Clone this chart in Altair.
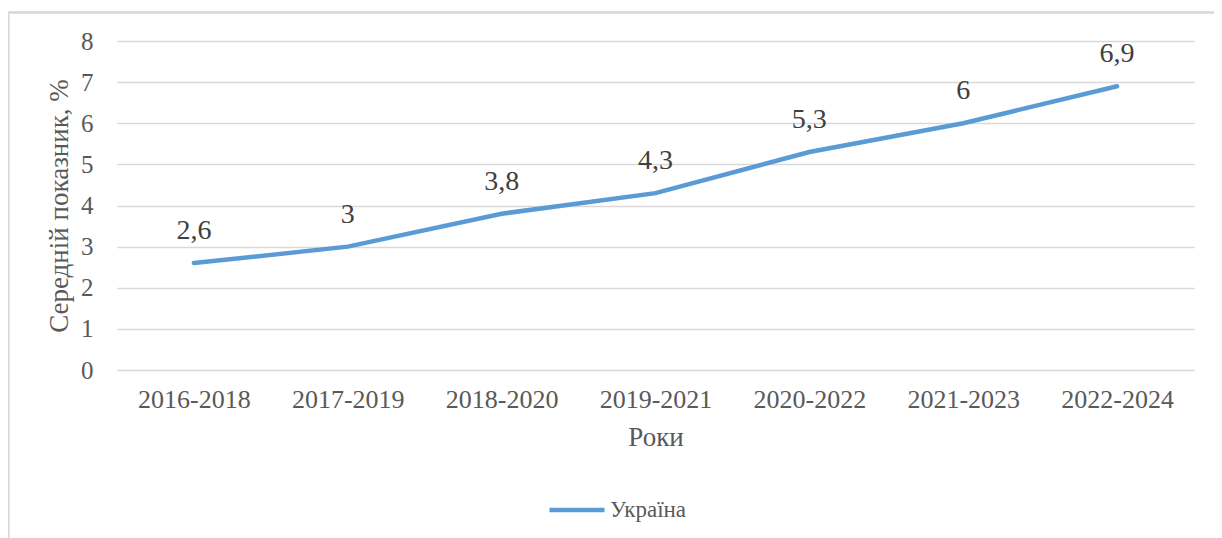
import altair as alt
import pandas as pd

periods = ["2016-2018", "2017-2019", "2018-2020", "2019-2021", "2020-2022", "2021-2023", "2022-2024"]
values = [2.6, 3.0, 3.8, 4.3, 5.3, 6.0, 6.9]
labels = ["2,6", "3", "3,8", "4,3", "5,3", "6", "6,9"]
series = "Україна"

df = pd.DataFrame({"period": periods, "value": values, "label": labels, "series": [series] * len(periods)})

FONT = "Liberation Serif"

x = alt.X("period:N", sort=periods, title="Роки",
          scale=alt.Scale(paddingInner=0, paddingOuter=0.5, align=0.5),
          axis=alt.Axis(labelAngle=0, labelFontSize=26, labelColor="#595959", labelPadding=16,
                        labelFont=FONT, titleFont=FONT,
                        titleFontSize=27, titleColor="#595959", titleFontWeight="normal",
                        titlePadding=12, ticks=False, domain=False, grid=False))
y = alt.Y("value:Q", title="Середній показник, %",
          scale=alt.Scale(domain=[0, 8], nice=False),
          axis=alt.Axis(values=list(range(0, 9)), labelFontSize=25, labelColor="#595959",
                        labelFont=FONT, titleFont=FONT,
                        labelPadding=24, titleFontSize=27, titleColor="#595959",
                        titleFontWeight="normal", titlePadding=7, ticks=False, domain=False,
                        gridColor="#d9d9d9", gridWidth=1.3))

line = alt.Chart(df).mark_line(strokeWidth=4.5, strokeCap="round").encode(
    x=x, y=y,
    color=alt.Color("series:N", scale=alt.Scale(domain=[series], range=["#5b9bd5"]),
                    legend=alt.Legend(title=None, orient="none", legendX=430, legendY=439,
                                      symbolType="stroke", symbolSize=3025, symbolStrokeWidth=4.5,
                                      labelFontSize=23, labelColor="#595959", labelFont=FONT,
                                      labelOffset=3)),
)

text = alt.Chart(df).mark_text(dy=-24, fontSize=28, color="#404040", font=FONT,
                               baseline="alphabetic").encode(
    x=alt.X("period:N", sort=periods), y="value:Q", text="label:N"
)

frame_top = alt.Chart(df).mark_rule(color="#d9d9d9", strokeWidth=1.3, clip=False).encode(
    x=alt.value(-108.5), x2=alt.value(1200), y=alt.value(-28.5)
)
frame_left = alt.Chart(df).mark_rule(color="#d9d9d9", strokeWidth=1.3, clip=False).encode(
    x=alt.value(-108.5), y=alt.value(-28.5), y2=alt.value(600)
)

chart = alt.layer(frame_top, frame_left, line, text).properties(
    width=1077, height=329,
    autosize=alt.AutoSizeParams(type="none"),
    padding={"left": 109, "top": 33, "right": 20, "bottom": 168},
).configure(font=FONT).configure_view(stroke=None)

chart.save("out.html", embed_options={"renderer": "svg", "actions": False})
